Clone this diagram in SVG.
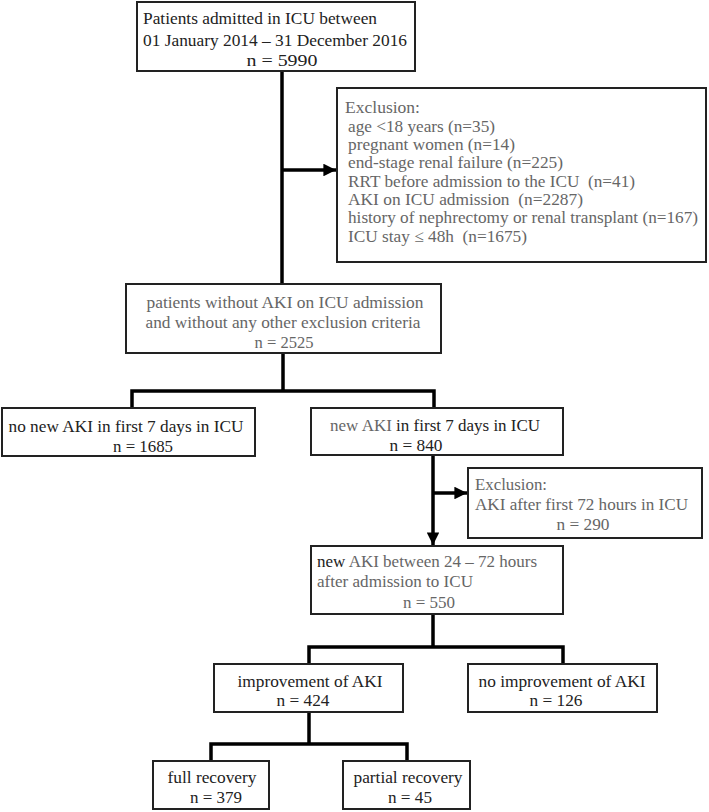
<svg xmlns="http://www.w3.org/2000/svg" width="709" height="812" viewBox="0 0 709 812">
<defs>
<marker id="ah" viewBox="0 0 10 10" refX="10" refY="5" markerWidth="3.6" markerHeight="3.6" orient="auto" markerUnits="strokeWidth">
<path d="M0,0 L10,5 L0,10 z" fill="#000"/>
</marker>
</defs>
<style>
.box{fill:#fff;stroke:#222;stroke-width:2}
.t{font-family:"Liberation Serif","Times New Roman",serif;font-size:17px;fill:#666}
.d{font-family:"Liberation Serif","Times New Roman",serif;font-size:17px;fill:#222}
.k{fill:#222}
.c{fill:none;stroke:#000;stroke-width:3.5}
.m{text-anchor:middle}
</style>
<rect width="709" height="812" fill="#fff"/>
<g id="connectors">
<path class="c" d="M282,71 V284"/>
<path class="c" d="M282,170 H336" marker-end="url(#ah)"/>
<path class="c" d="M283,353 V391 M132,408 V391 H434 V408"/>
<path class="c" d="M433,455 V545" marker-end="url(#ah)"/>
<path class="c" d="M433,493 H467" marker-end="url(#ah)"/>
<path class="c" d="M433,614 V647 M309,664 V647 H563 V664"/>
<path class="c" d="M309,712 V744 M211,761 V744 H407 V761"/>
</g>
<g id="n1">
<rect class="box" x="137" y="2" width="278" height="69"/>
<text class="d" x="143" y="24" textLength="234" lengthAdjust="spacingAndGlyphs">Patients admitted in ICU between</text>
<text class="d" x="143" y="46" textLength="264" lengthAdjust="spacingAndGlyphs">01 January 2014 – 31 December 2016</text>
<text class="d m" x="282" y="66" textLength="71" lengthAdjust="spacingAndGlyphs">n = 5990</text>
</g>
<g id="ex1">
<rect class="box" x="337" y="88" width="369" height="174"/>
<text class="t" x="345" y="113" textLength="75" lengthAdjust="spacingAndGlyphs">Exclusion:</text>
<text class="t" x="348" y="132" textLength="147" lengthAdjust="spacingAndGlyphs">age &lt;18 years (n=35)</text>
<text class="t" x="348" y="150" textLength="167" lengthAdjust="spacingAndGlyphs">pregnant women (n=14)</text>
<text class="t" x="348" y="168" textLength="215" lengthAdjust="spacingAndGlyphs">end-stage renal failure (n=225)</text>
<text class="t" x="348" y="187" textLength="287" lengthAdjust="spacingAndGlyphs" xml:space="preserve">RRT before admission to the ICU  (n=41)</text>
<text class="t" x="348" y="205" textLength="235" lengthAdjust="spacingAndGlyphs" xml:space="preserve">AKI on ICU admission  (n=2287)</text>
<text class="t" x="348" y="223" textLength="350" lengthAdjust="spacingAndGlyphs">history of nephrectomy or renal transplant (n=167)</text>
<text class="t" x="348" y="242" textLength="179" lengthAdjust="spacingAndGlyphs" xml:space="preserve">ICU stay ≤ 48h  (n=1675)</text>
</g>
<g id="n2">
<rect class="box" x="126" y="284" width="315" height="69"/>
<text class="t m" x="285" y="308" textLength="277" lengthAdjust="spacingAndGlyphs">patients without AKI on ICU admission</text>
<text class="t m" x="283" y="328" textLength="275" lengthAdjust="spacingAndGlyphs">and without any other exclusion criteria</text>
<text class="t m" x="284" y="348" textLength="59" lengthAdjust="spacingAndGlyphs">n = 2525</text>
</g>
<g id="n3">
<rect class="box" x="2" y="408" width="253" height="48"/>
<text class="d m" x="126" y="432" textLength="235" lengthAdjust="spacingAndGlyphs">no new AKI in first 7 days in ICU</text>
<text class="d m" x="143" y="452" textLength="60" lengthAdjust="spacingAndGlyphs">n = 1685</text>
</g>
<g id="n4">
<rect class="box" x="311" y="408" width="252" height="47"/>
<text class="t" x="330" y="431">new AKI <tspan class="k">in first 7 days in ICU</tspan></text>
<text class="d m" x="416" y="451" textLength="53" lengthAdjust="spacingAndGlyphs">n = 840</text>
</g>
<g id="ex2">
<rect class="box" x="468" y="468" width="234" height="70"/>
<text class="t" x="475" y="490" textLength="72" lengthAdjust="spacingAndGlyphs">Exclusion:</text>
<text class="t" x="475" y="510" textLength="213" lengthAdjust="spacingAndGlyphs">AKI after first 72 hours in ICU</text>
<text class="t m" x="583" y="530" textLength="53" lengthAdjust="spacingAndGlyphs">n = 290</text>
</g>
<g id="n5">
<rect class="box" x="311" y="546" width="252" height="68"/>
<text class="t" x="317" y="567"><tspan class="k">new</tspan> AKI between 24 – 72 hours</text>
<text class="t" x="317" y="587" textLength="156" lengthAdjust="spacingAndGlyphs">after admission to ICU</text>
<text class="t m" x="429" y="608" textLength="52" lengthAdjust="spacingAndGlyphs">n = 550</text>
</g>
<g id="n6">
<rect class="box" x="214" y="664" width="189" height="48"/>
<text class="d m" x="310" y="687" textLength="145" lengthAdjust="spacingAndGlyphs">improvement of AKI</text>
<text class="d m" x="303" y="706" textLength="53" lengthAdjust="spacingAndGlyphs">n = 424</text>
</g>
<g id="n7">
<rect class="box" x="468" y="664" width="189" height="48"/>
<text class="d m" x="562" y="687" textLength="167" lengthAdjust="spacingAndGlyphs">no improvement of AKI</text>
<text class="d m" x="556" y="706" textLength="53" lengthAdjust="spacingAndGlyphs">n = 126</text>
</g>
<g id="n8">
<rect class="box" x="153" y="761" width="116" height="48"/>
<text class="d m" x="212" y="783" textLength="89" lengthAdjust="spacingAndGlyphs">full recovery</text>
<text class="d m" x="216" y="803" textLength="52" lengthAdjust="spacingAndGlyphs">n = 379</text>
</g>
<g id="n9">
<rect class="box" x="343" y="761" width="127" height="48"/>
<text class="d m" x="408" y="783" textLength="109" lengthAdjust="spacingAndGlyphs">partial recovery</text>
<text class="d m" x="410" y="803" textLength="44" lengthAdjust="spacingAndGlyphs">n = 45</text>
</g>
</svg>
